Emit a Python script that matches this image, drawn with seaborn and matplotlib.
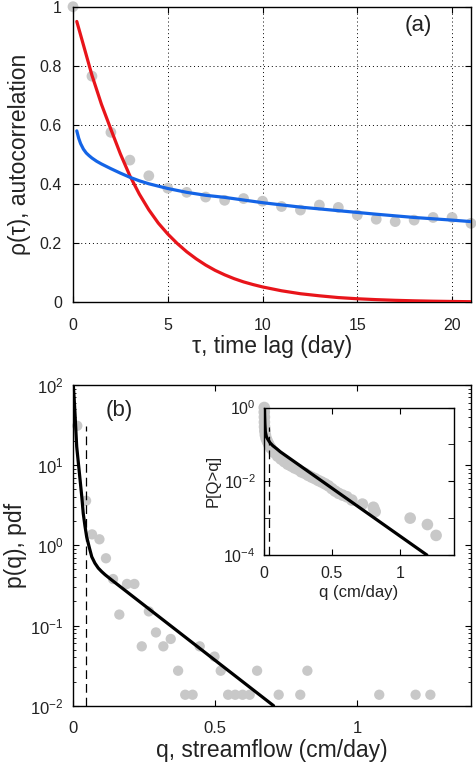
import numpy as np
import pandas as pd
import matplotlib
matplotlib.use("Agg")
import matplotlib.pyplot as plt
import seaborn as sns
from matplotlib.ticker import LogLocator, NullFormatter, FixedLocator

# ---------------- data: panel (a) ----------------
tau_obs = list(range(22))
rho_obs = [1.0, 0.765, 0.575, 0.481, 0.428, 0.386, 0.372, 0.356, 0.345, 0.351, 0.342,
           0.324, 0.312, 0.329, 0.321, 0.295, 0.281, 0.273, 0.278, 0.287, 0.287, 0.267]

tau_red = [0.2, 0.5, 1, 1.5, 2, 2.5, 3, 3.5, 4, 4.5, 5, 5.5, 6, 6.5, 7, 7.5, 8, 8.5, 9,
           9.5, 10, 11, 12, 13, 14, 15, 16, 17, 18, 19, 20, 21]
rho_red = [0.95, 0.882, 0.768, 0.67, 0.585, 0.502, 0.428, 0.366, 0.313, 0.268, 0.231,
           0.199, 0.171, 0.147, 0.126, 0.108, 0.093, 0.080, 0.069, 0.060, 0.052, 0.039,
           0.029, 0.022, 0.016, 0.012, 0.009, 0.0067, 0.005, 0.0037, 0.0028, 0.002]

tau_blue = [0.2, 0.3, 0.4, 0.55, 0.7, 0.85, 1.0, 1.25, 1.5, 2, 2.5, 3, 3.5, 4, 5, 6, 7, 8,
            9, 10, 12, 14, 16, 18, 20, 21]
rho_blue = [0.58, 0.555, 0.537, 0.518, 0.505, 0.496, 0.488, 0.477, 0.468, 0.452, 0.437,
            0.423, 0.411, 0.401, 0.385, 0.372, 0.362, 0.355, 0.346, 0.337, 0.322, 0.31,
            0.298, 0.287, 0.278, 0.273]

# ---------------- data: panel (b) ----------------
q_pdf = [0.014, 0.045, 0.066, 0.092, 0.115, 0.140, 0.162, 0.189, 0.215, 0.241, 0.266,
         0.291, 0.317, 0.343, 0.369, 0.394, 0.420, 0.445, 0.497, 0.519, 0.545, 0.570,
         0.596, 0.621, 0.647, 0.723, 0.799, 0.824, 1.077, 1.205, 1.257]
p_pdf = [31.0, 3.6, 1.37, 1.19, 0.69, 0.38, 0.137, 0.33, 0.33, 0.055, 0.15, 0.082, 0.055,
         0.068, 0.0273, 0.0137, 0.0137, 0.055, 0.041, 0.0273, 0.0137, 0.0137, 0.0137,
         0.0137, 0.0273, 0.0137, 0.0137, 0.0273, 0.0137, 0.0137, 0.0137]

q_pdf_fit = [0.0, 0.003, 0.006, 0.009, 0.012, 0.018, 0.024, 0.030, 0.035, 0.041, 0.047,
             0.056, 0.065, 0.076, 0.088, 0.100, 0.112, 0.135, 0.705]
p_pdf_fit = [100, 68, 44, 27, 17, 10.5, 6.5, 4.0, 2.5, 1.75, 1.28, 0.95, 0.72, 0.60,
             0.52, 0.47, 0.43, 0.37, 0.01]

q_threshold = 0.045
threshold_span = [0.01, 31.0]

# inset: exceedance probability
q_cdf = [0.002, 0.002, 0.003, 0.003, 0.004, 0.006, 0.010, 0.016, 0.025, 0.035, 0.05,
         0.075, 0.1, 0.125, 0.15, 0.175, 0.2, 0.225, 0.25, 0.275, 0.3, 0.325, 0.35,
         0.375, 0.4, 0.425, 0.45, 0.475, 0.5, 0.524, 0.55, 0.58, 0.61, 0.647, 0.725,
         0.806, 0.812, 0.819, 1.077, 1.204, 1.268]
p_cdf = [1.0, 0.75, 0.55, 0.4, 0.3, 0.23, 0.18, 0.145, 0.12, 0.1, 0.08, 0.06, 0.048,
         0.04, 0.034, 0.029, 0.026, 0.023, 0.021, 0.018, 0.0165, 0.0145, 0.013, 0.0118,
         0.0105, 0.0095, 0.0085, 0.0075, 0.0063, 0.0054, 0.0047, 0.0042, 0.0038, 0.0031,
         0.0024, 0.00197, 0.0017, 0.0015, 0.001, 0.00067, 0.00034]

q_cdf_fit = [0.004, 0.005, 0.007, 0.010, 0.018, 0.030, 0.045, 0.065, 0.09, 0.12, 1.2]
p_cdf_fit = [1.0, 0.6, 0.35, 0.22, 0.16, 0.134, 0.11, 0.092, 0.078, 0.063, 1.0e-4]
q_threshold_in = 0.04
threshold_span_in = [1e-4, 0.3]

# ---------------- style ----------------
sns.set_style("ticks")
plt.rcParams['font.family'] = ['Liberation Sans', 'DejaVu Sans']
plt.rcParams['mathtext.fontset'] = 'custom'
plt.rcParams['mathtext.rm'] = 'Liberation Sans'
plt.rcParams['mathtext.it'] = 'Liberation Sans:italic'
plt.rcParams['mathtext.default'] = 'regular'
plt.rcParams['axes.edgecolor'] = 'black'
plt.rcParams['axes.linewidth'] = 1.0

GRAY = '#c8c8c8'
RED = '#e8141a'
BLUE = '#1464e6'
TXT = '#222222'
TICK_FS = 11.5
LAB_FS = 16.5

W, H = 476, 762
fig = plt.figure(figsize=(W / 100, H / 100), dpi=100)

def rect(l, t, r, b):
    return [l / W, 1 - b / H, (r - l) / W, (b - t) / H]

ax1 = fig.add_axes(rect(73, 6.7, 471, 302.3))
ax2 = fig.add_axes(rect(73.3, 385, 471, 705.7))
ax3 = fig.add_axes(rect(264, 407.5, 454, 555))

# ---------------- panel (a) ----------------
sns.scatterplot(x=tau_obs, y=rho_obs, ax=ax1, color=GRAY, s=60, edgecolor='none',
                clip_on=False, zorder=2)
sns.lineplot(x=tau_red, y=rho_red, ax=ax1, color=RED, lw=2.3, estimator=None, zorder=3)
sns.lineplot(x=tau_blue, y=rho_blue, ax=ax1, color=BLUE, lw=2.3, estimator=None, zorder=4)
ax1.set_xlim(0, 21)
ax1.set_ylim(0, 1)
ax1.set_xticks([0, 5, 10, 15, 20])
ax1.set_yticks([0, 0.2, 0.4, 0.6, 0.8, 1.0])
ax1.set_yticklabels(['0', '0.2', '0.4', '0.6', '0.8', '1'])
ax1.grid(True, linestyle=(0, (1, 3)), color='black', lw=0.7)
ax1.tick_params(direction='in', length=4, labelsize=TICK_FS, top=True, right=True,
                colors='black', labelcolor=TXT)
ax1.tick_params(axis='x', pad=11)
ax1.tick_params(axis='y', pad=8)
ax1.set_xlabel('τ, time lag (day)', fontsize=LAB_FS, color=TXT, labelpad=2)
ax1.set_ylabel('ρ(τ), autocorrelation', fontsize=LAB_FS, color=TXT, labelpad=6)
ax1.text(0.867, 0.938, '(a)', transform=ax1.transAxes, fontsize=16, ha='center',
         va='center', color=TXT)
for s in ax1.spines.values():
    s.set_visible(True)

# ---------------- panel (b) ----------------
ax2.set_yscale('log')
sns.scatterplot(x=q_pdf, y=p_pdf, ax=ax2, color=GRAY, s=55, edgecolor='none',
                clip_on=False, zorder=2)
sns.lineplot(x=q_pdf_fit, y=p_pdf_fit, ax=ax2, color='black', lw=2.3, estimator=None,
             zorder=4)
sns.lineplot(x=[q_threshold, q_threshold], y=threshold_span, ax=ax2, color='black',
             lw=0.9, estimator=None, linestyle=(0, (7, 4)), zorder=3)
ax2.set_xlim(0, 1.4)
ax2.set_ylim(1e-2, 1e2)
ax2.set_xticks([0, 0.5, 1])
ax2.set_xticklabels(['0', '0.5', '1'])
ax2.yaxis.set_major_locator(LogLocator(base=10, numticks=10))
ax2.yaxis.set_minor_locator(LogLocator(base=10, subs=np.arange(2, 10), numticks=20))
ax2.yaxis.set_minor_formatter(NullFormatter())
ax2.tick_params(which='both', direction='in', top=True, right=True, colors='black',
                labelcolor=TXT)
ax2.tick_params(which='major', length=4, labelsize=12)
ax2.tick_params(axis='x', which='major', pad=11)
ax2.tick_params(axis='y', which='major', pad=7)
ax2.tick_params(which='minor', length=2)
ax2.set_xlabel('q, streamflow (cm/day)', fontsize=LAB_FS, color=TXT, labelpad=2)
ax2.set_ylabel('p(q), pdf', fontsize=LAB_FS, color=TXT, labelpad=2)
ax2.text(0.115, 0.92, '(b)', transform=ax2.transAxes, fontsize=16, ha='center',
         va='center', color=TXT)
for s in ax2.spines.values():
    s.set_visible(True)

# ---------------- inset ----------------
ax3.set_yscale('log')
sns.scatterplot(x=q_cdf, y=p_cdf, ax=ax3, color=GRAY, s=70, edgecolor='none',
                clip_on=False, zorder=2)
sns.lineplot(x=q_cdf_fit, y=p_cdf_fit, ax=ax3, color='black', lw=2.3, estimator=None,
             zorder=4)
sns.lineplot(x=[q_threshold_in, q_threshold_in], y=threshold_span_in, ax=ax3,
             color='black', lw=0.9, estimator=None, linestyle=(0, (7, 4)), zorder=3)
ax3.set_xlim(0, 1.4)
ax3.set_ylim(1e-4, 1e0)
ax3.set_xticks([0, 0.5, 1])
ax3.set_xticklabels(['0', '0.5', '1'])
ax3.yaxis.set_major_locator(FixedLocator([1e-4, 1e-2, 1e0]))
ax3.yaxis.set_minor_locator(FixedLocator([1e-3, 1e-1]))
ax3.yaxis.set_minor_formatter(NullFormatter())
ax3.tick_params(which='both', direction='in', top=True, right=True, colors='black',
                labelcolor=TXT)
ax3.tick_params(which='major', length=4, labelsize=11.5)
ax3.tick_params(axis='x', which='major', pad=8)
ax3.tick_params(axis='y', which='major', pad=6)
ax3.tick_params(which='minor', length=4)
ax3.set_xlabel('q (cm/day)', fontsize=12, color=TXT, labelpad=3)
ax3.set_ylabel('P[Q>q]', fontsize=12, color=TXT, labelpad=2)
ax3.set_facecolor('white')
for s in ax3.spines.values():
    s.set_visible(True)

fig.savefig('out.png', dpi=100)
